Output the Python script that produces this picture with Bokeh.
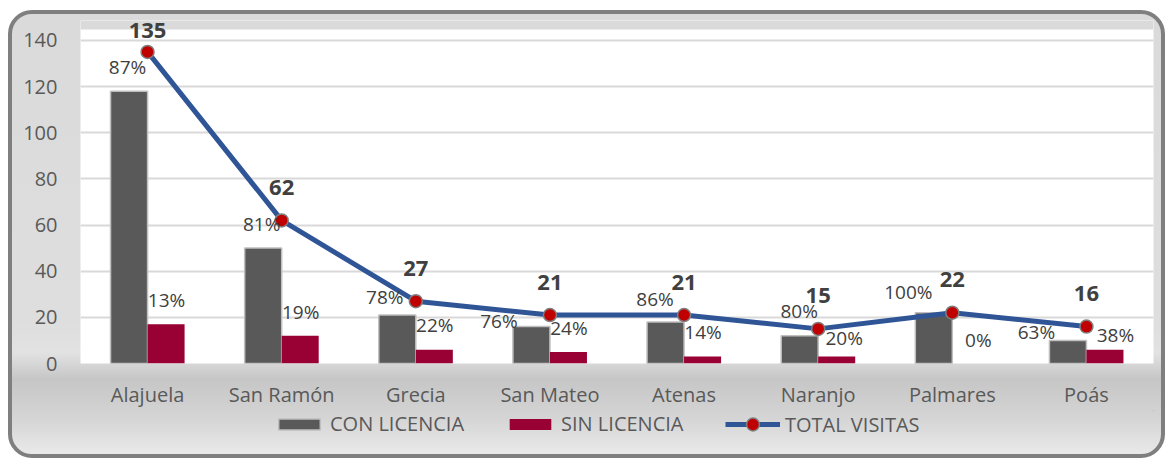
from bokeh.plotting import figure
from bokeh.models import (ColumnDataSource, Range1d, LabelSet, Legend, LegendItem,
                          FixedTicker, BoxAnnotation)
from bokeh.core.properties import value
from bokeh.transform import dodge
from bokeh.layouts import column
from bokeh.embed import file_html
from bokeh.resources import INLINE

# ---- data ----
cantones = ["Alajuela", "San Ramón", "Grecia", "San Mateo", "Atenas", "Naranjo", "Palmares", "Poás"]
con_licencia = [118, 50, 21, 16, 18, 12, 22, 10]
sin_licencia = [17, 12, 6, 5, 3, 3, 0, 6]
total_visitas = [135, 62, 27, 21, 21, 15, 22, 16]
pct_con = ["87%", "81%", "78%", "76%", "86%", "80%", "100%", "63%"]
pct_sin = ["13%", "19%", "22%", "24%", "14%", "20%", "0%", "38%"]
y_ticks = [0, 20, 40, 60, 80, 100, 120, 140]

# ---- label nudges (screen px) ----
con_dx = [-20, -20, -31, -51, -29, -19, -44, -50]
con_dy = [24, 24, 18, 6, 23, 25, 21, 8]
sin_dx = [19, 19, 19, 19, 19, 26, 26, 29]
sin_dy = [24, 24, 25, 24, 25, 19, 24, 15]
tot_dy = [21, 33, 33, 33, 33, 33, 33, 33]

FONT = "Open Sans"
PLOT_TOP = 144.75   # white plot area ends slightly above the 140 gridline

src = ColumnDataSource(dict(
    cat=cantones, con=con_licencia, sin=sin_licencia, tot=total_visitas,
    pcon=pct_con, psin=pct_sin,
    cdx=con_dx, cdy=con_dy, sdx=sin_dx, sdy=sin_dy, tdy=tot_dy,
    tot_txt=[str(v) for v in total_visitas],
))

p = figure(x_range=cantones, y_range=Range1d(0, 148.6), width=1149, height=396,
           output_backend="svg", toolbar_location=None,
           min_border_left=68, min_border_right=8, min_border_top=6, min_border_bottom=46,
           background_fill_color="white", border_fill_color=None, outline_line_color=None)

# grey band above the white plot area (chart-area colour)
p.add_layout(BoxAnnotation(bottom=PLOT_TOP, fill_color="#dadada", fill_alpha=1,
                           line_color=None, level="underlay"))

bw = 0.276
r_con = p.vbar(x=dodge("cat", -bw / 2, range=p.x_range), top="con", width=bw, source=src,
               fill_color="#595959", line_color="#bfbfbf", line_width=1.5)
r_sin = p.vbar(x=dodge("cat", bw / 2, range=p.x_range), top="sin", width=bw, source=src,
               fill_color="#990033", line_color=None)
r_line = p.line(x="cat", y="tot", source=src, line_color="#2F5597", line_width=5)
r_pts = p.scatter(x="cat", y="tot", source=src, size=13, fill_color="#C00000",
                  line_color="#808080", line_width=1.5)

common = dict(text_font=value(FONT), text_align="center", text_baseline="middle")
p.add_layout(LabelSet(x="cat", y="con", text="pcon", x_offset="cdx", y_offset="cdy",
                      source=src, text_font_size="19px", text_color="#404040", **common))
p.add_layout(LabelSet(x="cat", y="sin", text="psin", x_offset="sdx", y_offset="sdy",
                      source=src, text_font_size="19px", text_color="#404040", **common))
p.add_layout(LabelSet(x="cat", y="tot", text="tot_txt", y_offset="tdy",
                      source=src, text_font_size="22px", text_font_style="bold",
                      text_color="#404040", **common))

# axes
p.yaxis.ticker = FixedTicker(ticks=y_ticks)
for ax in (p.xaxis[0], p.yaxis[0]):
    ax.axis_line_color = None
    ax.major_tick_line_color = None
    ax.minor_tick_line_color = None
    ax.major_label_text_font = FONT
    ax.major_label_text_color = "#595959"
p.xaxis.major_label_text_font_size = "20px"
p.yaxis.major_label_text_font_size = "20px"
p.xaxis.major_label_standoff = 11
p.yaxis.major_label_standoff = 17
p.xgrid.grid_line_color = None
p.ygrid.grid_line_color = "#d9d9d9"
p.ygrid.grid_line_width = 2

# ---- legend strip (own small figure so it is not clipped) ----
lg = figure(width=1149, height=44, x_range=Range1d(0, 1), y_range=Range1d(0, 1),
            output_backend="svg", toolbar_location=None,
            min_border_left=68, min_border_right=8, min_border_top=0, min_border_bottom=0,
            background_fill_color=None, border_fill_color=None, outline_line_color=None)
lg.axis.visible = False
lg.grid.visible = False
# legend proxies, placed outside the visible range
l_con = lg.vbar(x=[5], top=[5], bottom=[4], width=0.1, fill_color="#595959",
                line_color="#bfbfbf", line_width=1.5)
l_sin = lg.vbar(x=[5], top=[5], bottom=[4], width=0.1, fill_color="#990033", line_color=None)
l_line = lg.line(x=[5, 6], y=[5, 5], line_color="#2F5597", line_width=5)
l_pts = lg.scatter(x=[5], y=[5], size=13, fill_color="#C00000", line_color="#808080", line_width=1.5)

leg_style = dict(orientation="horizontal", label_standoff=5, spacing=40,
                 padding=0, margin=0, border_line_color=None, background_fill_alpha=0,
                 label_text_font=FONT, label_text_font_size="20px", label_text_color="#595959")
legend1 = Legend(items=[LegendItem(label="CON LICENCIA", renderers=[l_con]),
                        LegendItem(label="SIN LICENCIA", renderers=[l_sin])],
                 location=(193, 17), glyph_width=52, glyph_height=14, **leg_style)
legend2 = Legend(items=[LegendItem(label="TOTAL VISITAS", renderers=[l_line, l_pts])],
                 location=(645, 14), glyph_width=55, glyph_height=32, **leg_style)
lg.add_layout(legend1)
lg.add_layout(legend2)

layout = column(p, lg, spacing=0, styles={
    "margin-top": "10px",
    "margin-left": "8px",
    "border": "4px solid #7f7f7f",
    "border-radius": "24px",
    "background": "linear-gradient(to bottom, #dadada 0%, #dedede 70%, #e2e2e2 77%, #c6c6c6 83%, #d5d5d5 92%, #e9e9e9 100%)",
})

open("out.html", "w").write(file_html(layout, INLINE))
